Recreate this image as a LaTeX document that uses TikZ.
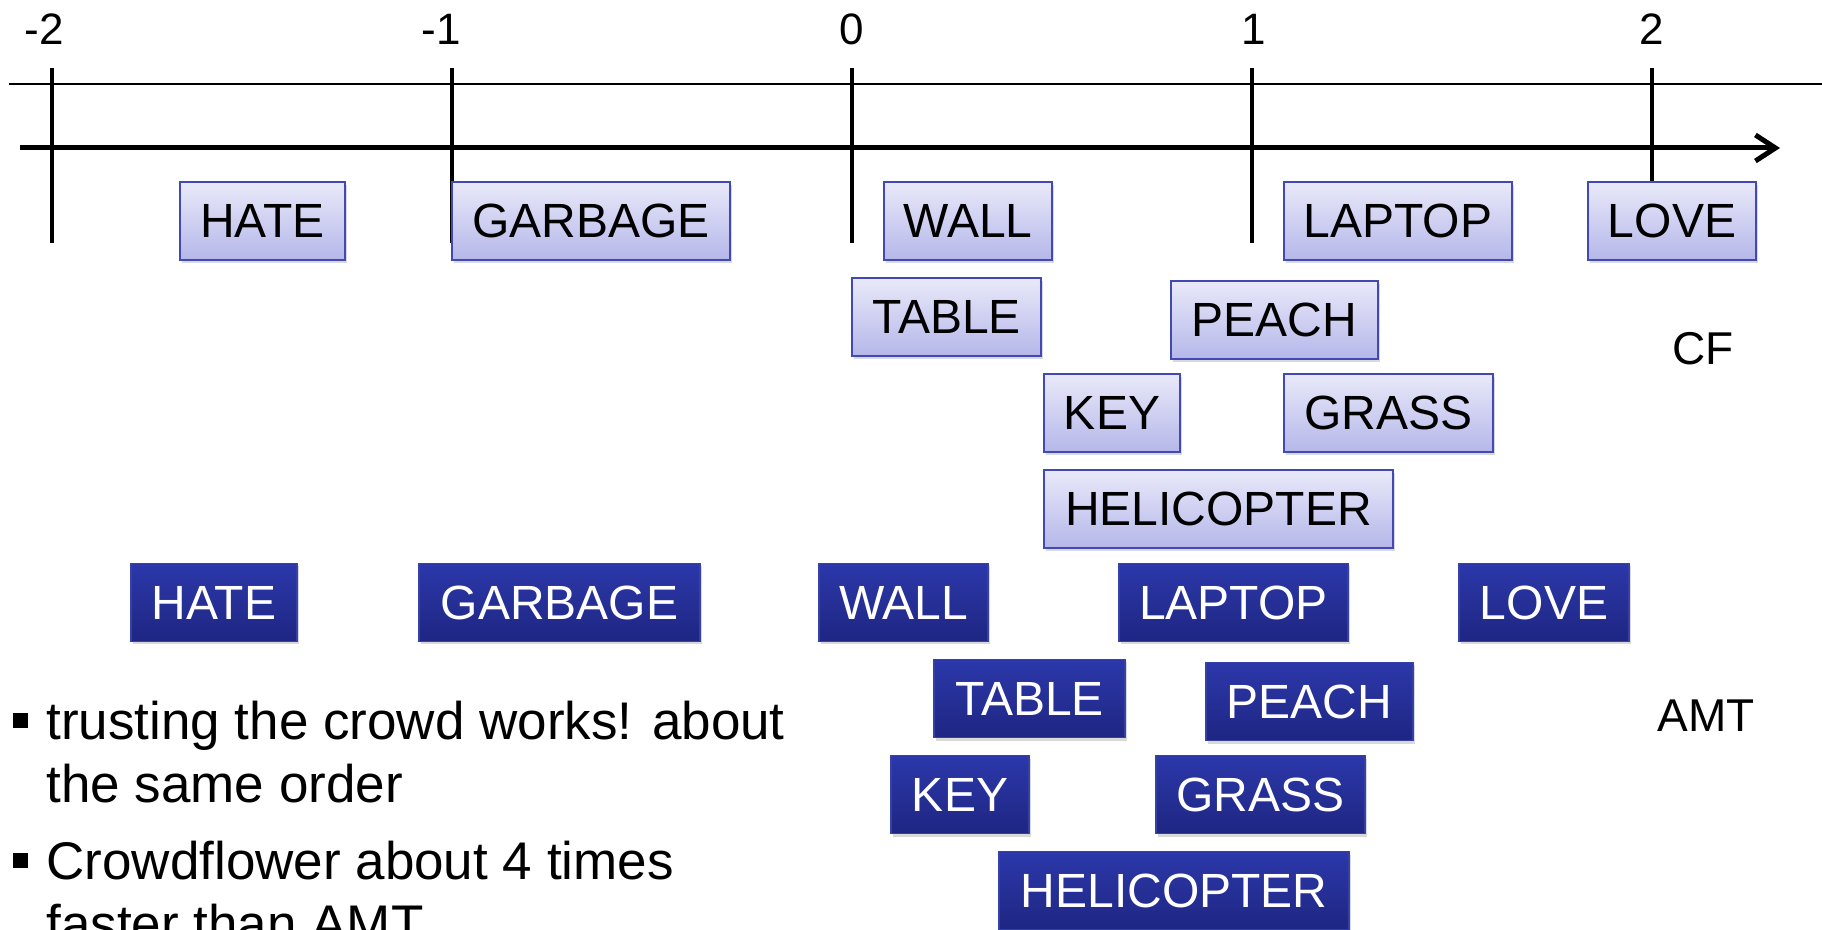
\documentclass[tikz,border=0pt]{standalone}
\usepackage{fontspec}
\setmainfont{Liberation Sans}
\usetikzlibrary{arrows.meta,shadows}

\definecolor{cftop}{HTML}{E9E9F9}
\definecolor{cfbot}{HTML}{B5B7EA}
\definecolor{cfedge}{HTML}{4349B3}
\definecolor{amttop}{HTML}{2C38AA}
\definecolor{amtbot}{HTML}{1E2682}
\definecolor{amtedge}{HTML}{3540A8}

\begin{document}
\begin{tikzpicture}[x=0.5pt,y=-0.5pt,
    word/.style={minimum height=39pt, inner sep=0pt, line width=0.8pt,
        font=\fontsize{24}{24}\selectfont,
        drop shadow={shadow xshift=0.8pt, shadow yshift=-1.5pt, opacity=0.3}},
    cfword/.style={word, draw=cfedge, top color=cftop, bottom color=cfbot},
    amtword/.style={word, draw=amtedge, top color=amttop, bottom color=amtbot, text=white}]
    \useasboundingbox (0,0) rectangle (1822,930);

% number line
    \draw[line width=0.75pt] (9,84) -- (1822,84);
    \foreach \n in {-2,...,2}
        \draw[line width=2.2pt] (852+400*\n,68) -- (852+400*\n,243);
    \coordinate (axisL) at (20,148);
    \coordinate (axisR) at (1780,148);
    \draw[line width=2.5pt,-{Straight Barb[length=10pt,width=13pt]}] (axisL) -- (axisR);

    \foreach \n/\lx in {-2/44,-1/441,0/852,1/1254,2/1652}
        \node[font=\fontsize{22}{22}\selectfont] (num\n) at (\lx,29) {\n};

% CF ranking
\node[cfword, minimum width=82.5pt] (cfhate) at (262.5,221) {HATE};
\node[cfword, minimum width=139pt] (cfgarbage) at (591,221) {GARBAGE};
\node[cfword, minimum width=84pt] (cfwall) at (968,221) {WALL};
\node[cfword, minimum width=114pt] (cflaptop) at (1398,221) {LAPTOP};
\node[cfword, minimum width=84pt] (cflove) at (1672,221) {LOVE};
\node[cfword, minimum width=94.5pt] (cftable) at (946.5,317) {TABLE};
\node[cfword, minimum width=103.5pt] (cfpeach) at (1274.5,320) {PEACH};
\node[cfword, minimum width=68pt] (cfkey) at (1112,413) {KEY};
\node[cfword, minimum width=104.5pt] (cfgrass) at (1388.5,413) {GRASS};
\node[cfword, minimum width=174.5pt] (cfheli) at (1218.5,509) {HELICOPTER};
\node[font=\fontsize{23}{23}\selectfont] (cflabel) at (1703,349) {CF};

% AMT ranking
\node[amtword, minimum width=83pt] (amthate) at (214,602.5) {HATE};
\node[amtword, minimum width=140.5pt] (amtgarbage) at (559.5,602.5) {GARBAGE};
\node[amtword, minimum width=84.5pt] (amtwall) at (903.5,602.5) {WALL};
\node[amtword, minimum width=114.5pt] (amtlaptop) at (1233.5,602.5) {LAPTOP};
\node[amtword, minimum width=85pt] (amtlove) at (1544,602.5) {LOVE};
\node[amtword, minimum width=95.5pt] (amttable) at (1029.5,698.5) {TABLE};
\node[amtword, minimum width=103.5pt] (amtpeach) at (1309.5,701.5) {PEACH};
\node[amtword, minimum width=69pt] (amtkey) at (960,794.5) {KEY};
\node[amtword, minimum width=104.5pt] (amtgrass) at (1260.5,794.5) {GRASS};
\node[amtword, minimum width=175pt] (amtheli) at (1174,890.5) {HELICOPTER};
\node[font=\fontsize{23}{23}\selectfont] (amtlabel) at (1706,716) {AMT};

% remarks (anchored at the baseline of their last line)
\node[fill, minimum size=7.5pt, inner sep=0pt] (dota) at (20.5,720) {};
\node[anchor=base west, align=left, inner sep=0pt, font=\fontsize{26.5}{31.5}\selectfont] (pointa) at (46,802)
    {trusting the crowd works! about\\the same order};
\node[fill, minimum size=7.5pt, inner sep=0pt] (dotb) at (20.5,860) {};
\node[anchor=base west, align=left, inner sep=0pt, font=\fontsize{26.5}{31.5}\selectfont] (pointb) at (46,942)
    {Crowdflower about 4 times\\faster than AMT};

\end{tikzpicture}
\end{document}
